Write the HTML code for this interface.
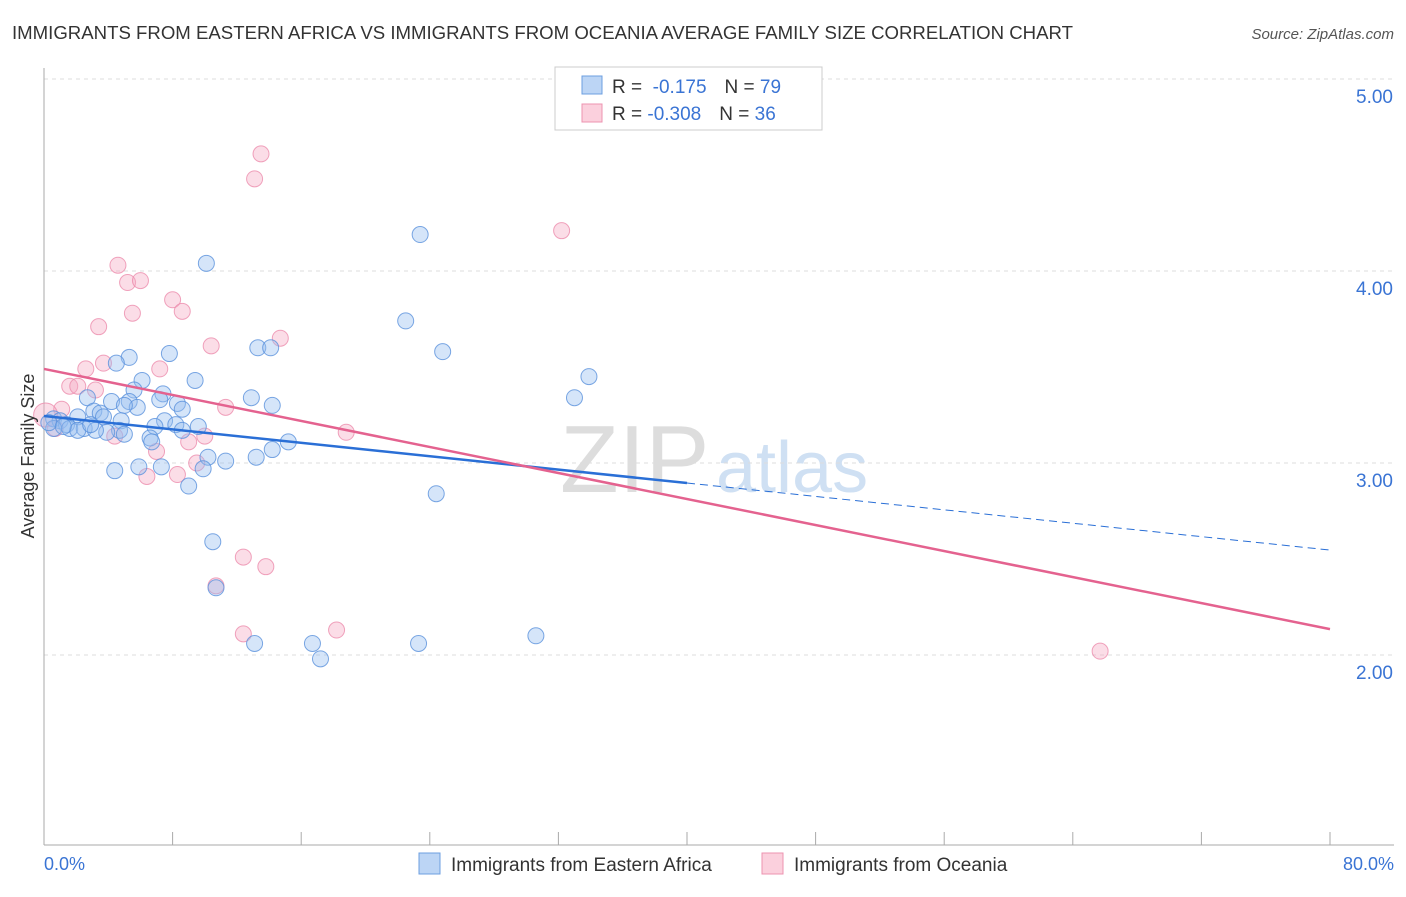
<!DOCTYPE html>
<html><head><meta charset="utf-8"><style>
body{margin:0;background:#fff;font-family:"Liberation Sans",sans-serif;}
svg text{font-family:"Liberation Sans",sans-serif;}
</style></head><body>
<svg width="1406" height="892" id="chart">
<text x="12" y="39" font-size="18" fill="#333" textLength="1061" lengthAdjust="spacingAndGlyphs">IMMIGRANTS FROM EASTERN AFRICA VS IMMIGRANTS FROM OCEANIA AVERAGE FAMILY SIZE CORRELATION CHART</text>
<text x="1394" y="39" font-size="15" fill="#555" font-style="italic" text-anchor="end">Source: ZipAtlas.com</text>
<text x="560" y="492" font-size="96" fill="#ddd" font-family="Liberation Serif">ZIP</text>
<text x="716" y="492" font-size="72" fill="#cfe0f3">atlas</text>
<g id="grid"></g><g id="axes"></g><g id="marks"></g>
<text transform="translate(34,456) rotate(-90)" font-size="18" fill="#333" text-anchor="middle">Average Family Size</text>
<text x="44" y="870" font-size="18" fill="#3a74d4">0.0%</text>
<text x="1394" y="870" font-size="18" fill="#3a74d4" text-anchor="end">80.0%</text>
<g>
<rect x="555" y="67" width="267" height="63" fill="#fff" stroke="#ccc"/>
<rect x="582" y="76" width="20" height="18" fill="#bcd5f5" stroke="#6c9fe0"/>
<rect x="582" y="104" width="20" height="18" fill="#fbd0dd" stroke="#ec93b0"/>
<text x="612" y="93" font-size="19" fill="#333">R = <tspan fill="#3a74d4">&#160;-0.175</tspan><tspan dx="18">N = </tspan><tspan fill="#3a74d4">79</tspan></text>
<text x="612" y="120" font-size="19" fill="#333">R = <tspan fill="#3a74d4">-0.308</tspan><tspan dx="18">N = </tspan><tspan fill="#3a74d4">36</tspan></text>
</g>
<g>
<rect x="419" y="853" width="21" height="21" fill="#bcd5f5" stroke="#6c9fe0"/>
<text x="451" y="871" font-size="19" fill="#333">Immigrants from Eastern Africa</text>
<rect x="762" y="853" width="21" height="21" fill="#fbd0dd" stroke="#ec93b0"/>
<text x="794" y="871" font-size="19" fill="#333">Immigrants from Oceania</text>
</g>
</svg>
<script>
const yTicks=[5,4,3,2];
const yTickLabels=["5.00","4.00","3.00","2.00"];
const xTicks=[0,8,16,24,32,40,48,56,64,72,80];
const blueX=[23.4,10.1,22.5,24.8,13.3,14.1,5.3,7.8,4.5,33.9,9.4,6.1,5.6,7.4,12.9,33.0,2.7,7.2,4.2,5.3,14.2,5.8,8.3,5.0,8.6,3.1,3.5,2.1,3.7,7.5,4.8,0.6,1.0,1.4,8.2,9.6,6.9,1.6,2.5,2.1,4.7,0.6,8.6,3.9,5.0,3.2,6.6,6.7,15.2,10.2,14.2,13.2,11.3,5.9,7.3,9.9,4.4,24.4,9.0,10.5,10.7,13.1,16.7,17.2,23.3,30.6,0.3,1.2,2.9];
const blueY=[4.19,4.04,3.74,3.58,3.60,3.60,3.55,3.57,3.52,3.45,3.43,3.43,3.38,3.36,3.34,3.34,3.34,3.33,3.32,3.32,3.30,3.29,3.31,3.30,3.28,3.27,3.26,3.24,3.24,3.22,3.22,3.23,3.22,3.20,3.20,3.19,3.19,3.18,3.18,3.17,3.17,3.18,3.17,3.16,3.15,3.17,3.13,3.11,3.11,3.03,3.07,3.03,3.01,2.98,2.98,2.97,2.96,2.84,2.88,2.59,2.35,2.06,2.06,1.98,2.06,2.10,3.21,3.19,3.20];
const pinkX=[13.5,13.1,32.2,4.6,5.2,6.0,8.0,5.5,8.6,3.4,14.7,10.4,3.7,2.6,7.2,1.6,3.2,2.1,1.1,11.3,0.1,4.4,9.0,10.0,18.8,7.0,9.5,6.4,8.3,12.4,13.8,10.7,12.4,18.2,65.7,0.7];
const pinkY=[4.61,4.48,4.21,4.03,3.94,3.95,3.85,3.78,3.79,3.71,3.65,3.61,3.52,3.49,3.49,3.40,3.38,3.40,3.28,3.29,3.25,3.14,3.11,3.14,3.16,3.06,3.00,2.93,2.94,2.51,2.46,2.36,2.11,2.13,2.02,3.18];
const blueLine=[3.245,-0.00873]; const pinkLine=[3.49,-0.01694];
const X=v=>44+v/80*1286, Y=v=>79+(5-v)*192;
const NS="http://www.w3.org/2000/svg";
function mk(p,t,a){const e=document.createElementNS(NS,t);for(const k in a)e.setAttribute(k,a[k]);document.getElementById(p).appendChild(e);return e;}
yTicks.forEach((t,i)=>{
 const g=mk('grid','line',{x1:44,x2:1394,y1:Y(t),y2:Y(t),stroke:'#ddd','stroke-dasharray':'4,4'});
 
 
 const l=mk('grid','text',{x:1393,y:Y(t)+24,'font-size':19,fill:'#3a74d4','text-anchor':'end'});
 l.textContent=yTickLabels[i];
 
 
});
const ax=mk('axes','line',{x1:44,x2:44,y1:68,y2:845,stroke:'#aaa'});


const bx=mk('axes','line',{x1:44,x2:1394,y1:845,y2:845,stroke:'#aaa'});


xTicks.forEach(t=>{
 const k=mk('axes','line',{x1:X(t),x2:X(t),y1:832,y2:845,stroke:'#aaa'});
 
 
});
pinkX.forEach((v,i)=>{
 const c=mk('marks','circle',{cx:X(v),cy:Y(pinkY[i]),r:i==20?12:8,fill:'rgba(246,170,195,0.4)',stroke:'rgba(236,140,172,0.8)','stroke-width':1});
 
 
});
blueX.forEach((v,i)=>{
 const c=mk('marks','circle',{cx:X(v),cy:Y(blueY[i]),r:8,fill:'rgba(150,190,240,0.4)',stroke:'rgba(90,145,220,0.8)','stroke-width':1});
 
 
});
const bl=mk('marks','line',{x1:X(0),y1:Y(blueLine[0]),x2:X(40),y2:Y(blueLine[0]+40*blueLine[1]),stroke:'#2a6fd6','stroke-width':2.5});


const bd=mk('marks','line',{x1:X(40),y1:Y(blueLine[0]+40*blueLine[1]),x2:X(80),y2:Y(blueLine[0]+80*blueLine[1]),stroke:'#2a6fd6','stroke-width':1,'stroke-dasharray':'8,5'});


const pl=mk('marks','line',{x1:X(0),y1:Y(pinkLine[0]),x2:X(80),y2:Y(pinkLine[0]+80*pinkLine[1]),stroke:'#e4628f','stroke-width':2.5});


</script>
</body></html>
